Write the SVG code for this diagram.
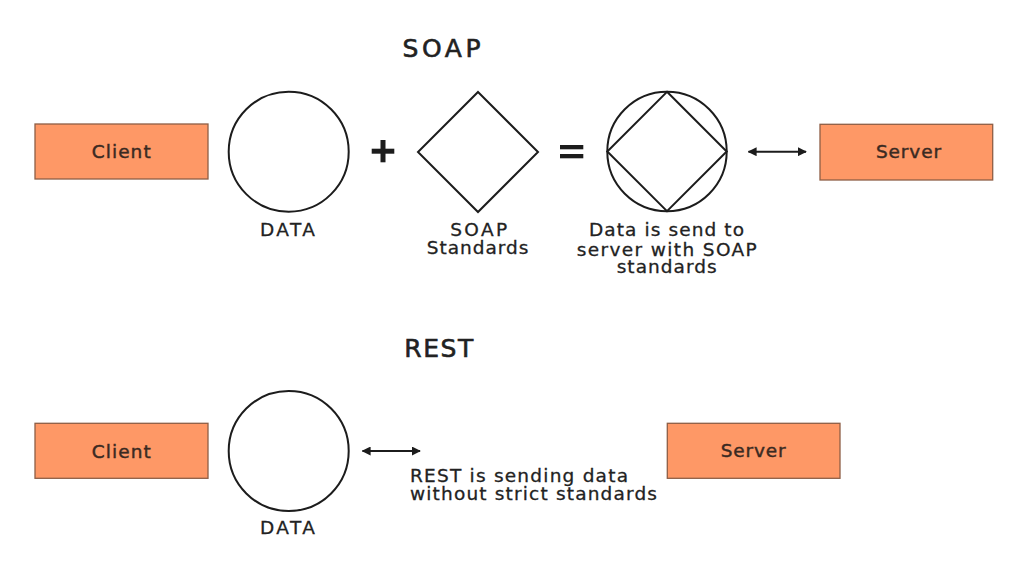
<svg xmlns="http://www.w3.org/2000/svg" width="1024" height="584" viewBox="0 0 1024 584">
<style>
.box{fill:#FE9866;stroke:#8E5E46;stroke-width:1.3}
.shape{fill:none;stroke:#1c1c1c;stroke-width:2}
.boxt{font-family:"DejaVu Sans","Liberation Sans",sans-serif;font-size:18.5px;fill:#3a2a22;stroke:#3a2a22;stroke-width:0.45;text-anchor:middle}
.lbl{font-family:"DejaVu Sans","Liberation Sans",sans-serif;font-size:18.5px;fill:#222;stroke:#222;stroke-width:0.3;text-anchor:middle}
.lbll{font-family:"DejaVu Sans","Liberation Sans",sans-serif;font-size:18.5px;fill:#222;stroke:#222;stroke-width:0.3}
.title{font-family:"DejaVu Sans","Liberation Sans",sans-serif;font-size:25px;fill:#222;stroke:#222;stroke-width:0.6;text-anchor:middle}
.conn{stroke:#1c1c1c;stroke-width:2;fill:none}
</style>
<defs>
<marker id="ah" viewBox="0 0 10 10" refX="9" refY="5" markerWidth="9" markerHeight="9" markerUnits="userSpaceOnUse" orient="auto-start-reverse">
<path d="M0,0 L10,5 L0,10 Z" fill="#1c1c1c"/>
</marker>
</defs>
<rect width="1024" height="584" fill="#fff"/>

<g id="title-soap"><text class="title" x="441.5" y="56.5" textLength="78">SOAP</text></g>
<g id="title-rest"><text class="title" x="438.7" y="357" textLength="69">REST</text></g>

<g id="soap-client">
<rect class="box" x="35" y="124" width="173" height="55"/>
<text class="boxt" x="121.2" y="157.7" textLength="59">Client</text>
</g>
<g id="soap-data">
<circle class="shape" cx="288.7" cy="151.7" r="60"/>
<text class="lbl" x="287.5" y="235.7" textLength="55">DATA</text>
</g>
<g id="plus">
<rect x="371.7" y="148.7" width="22.6" height="5" fill="#1c1c1c"/>
<rect x="380.5" y="140" width="5" height="22.3" fill="#1c1c1c"/>
</g>
<g id="soap-standards">
<polygon class="shape" points="478,92 538,152 478,212 418,152"/>
<text class="lbl" x="478.7" y="235.7" textLength="57">SOAP</text>
<text class="lbl" x="477.5" y="254.3" textLength="101.7">Standards</text>
</g>
<g id="equals">
<rect x="560" y="145" width="23.3" height="4.3" fill="#1c1c1c"/>
<rect x="560" y="154" width="23.3" height="4.3" fill="#1c1c1c"/>
</g>
<g id="soap-combined">
<circle class="shape" cx="667" cy="151.5" r="59.7"/>
<polygon class="shape" points="667,91.8 726.7,151.5 667,211.2 607.3,151.5"/>
<text class="lbl" x="666.5" y="236" textLength="155">Data is send to</text>
<text class="lbl" x="666.7" y="255.5" textLength="180">server with SOAP</text>
<text class="lbl" x="666.7" y="273.3" textLength="100">standards</text>
</g>
<g id="soap-server">
<rect class="box" x="820" y="124.3" width="172.7" height="55.7"/>
<text class="boxt" x="908.5" y="158.3" textLength="65">Server</text>
</g>

<g id="rest-client">
<rect class="box" x="35" y="423.3" width="173" height="55"/>
<text class="boxt" x="121.3" y="457.7" textLength="59">Client</text>
</g>
<g id="rest-data">
<circle class="shape" cx="288.7" cy="451" r="60"/>
<text class="lbl" x="287.5" y="534" textLength="55">DATA</text>
</g>
<g id="rest-label">
<text class="lbll" x="410" y="481.7" textLength="218">REST is sending data</text>
<text class="lbll" x="410" y="500" textLength="247">without strict standards</text>
</g>
<g id="rest-server">
<rect class="box" x="667.3" y="423.3" width="172.7" height="55"/>
<text class="boxt" x="753.2" y="457.3" textLength="65">Server</text>
</g>

<g id="connectors">
<line class="conn" x1="748.5" y1="151.7" x2="806" y2="151.7" marker-start="url(#ah)" marker-end="url(#ah)"/>
<line class="conn" x1="362.5" y1="451" x2="420" y2="451" marker-start="url(#ah)" marker-end="url(#ah)"/>
</g>
</svg>
